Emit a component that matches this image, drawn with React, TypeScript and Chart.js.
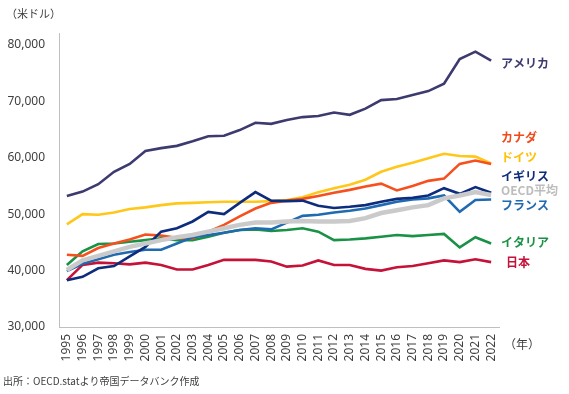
import { useEffect, useRef } from 'react';
import { Chart, registerables } from 'chart.js';
Chart.register(...registerables);

const years = ['1995','1996','1997','1998','1999','2000','2001','2002','2003','2004','2005','2006','2007','2008','2009','2010','2011','2012','2013','2014','2015','2016','2017','2018','2019','2020','2021','2022'];
const yTicks = [30000, 40000, 50000, 60000, 70000, 80000];

const usa = [53200, 54000, 55300, 57500, 58900, 61200, 61700, 62100, 62900, 63800, 63900, 64900, 66200, 66000, 66700, 67200, 67400, 68000, 67600, 68700, 70200, 70400, 71100, 71800, 73100, 77500, 78800, 77200];
const canada = [42800, 42600, 44000, 44800, 45500, 46400, 46200, 45800, 45700, 46900, 48100, 49600, 51000, 52000, 52400, 52700, 53200, 53800, 54300, 54900, 55400, 54200, 55000, 55900, 56300, 58900, 59500, 58900];
const germany = [48200, 50000, 49900, 50300, 50900, 51200, 51600, 51900, 52000, 52100, 52200, 52200, 52200, 52300, 52500, 53000, 53900, 54600, 55200, 56100, 57500, 58400, 59100, 59900, 60700, 60300, 60200, 59000];
const uk = [38300, 38900, 40400, 40800, 42500, 44200, 46900, 47500, 48700, 50400, 50000, 52000, 53900, 52400, 52300, 52400, 51500, 51100, 51300, 51600, 52200, 52700, 52900, 53300, 54600, 53600, 54800, 53800];
const oecd = [40100, 41800, 42600, 43400, 44200, 44800, 45400, 45900, 46300, 46900, 47500, 48100, 48500, 48500, 48700, 48800, 48700, 48700, 48800, 49300, 50200, 50700, 51200, 51600, 52800, 53300, 53900, 53400];
const france = [39900, 41200, 42000, 42800, 43300, 43700, 43700, 44800, 45900, 46300, 46700, 47200, 47500, 47300, 48500, 49700, 49900, 50300, 50600, 51000, 51600, 52200, 52600, 52800, 53300, 50400, 52500, 52600];
const italy = [41000, 43400, 44700, 44800, 45100, 45400, 45700, 45400, 45400, 46000, 46700, 47200, 47300, 47000, 47200, 47500, 46900, 45400, 45500, 45700, 46000, 46300, 46100, 46300, 46500, 44100, 45900, 44800];
const japan = [38300, 41000, 41400, 41300, 41100, 41400, 41000, 40200, 40200, 41000, 41900, 41900, 41900, 41600, 40700, 40900, 41800, 41000, 41000, 40300, 40000, 40600, 40800, 41300, 41800, 41500, 42000, 41500];

const seriesNames = ['アメリカ', 'カナダ', 'ドイツ', 'イギリス', 'OECD平均', 'フランス', 'イタリア', '日本'];
const seriesColors = ['#3C3A6E', '#F5501E', '#FFC719', '#0D2C7C', '#CACACA', '#1F6AB0', '#1A9246', '#C41239'];
const labelColors = ['#3C3A6E', '#F04A1C', '#FFC000', '#0D2C7C', '#BDBDBD', '#1F6AB0', '#1A9246', '#C41239'];
const labelY = [63, 137, 157, 176, 190, 205, 242, 262];

const unitTitle = '（米ドル）';
const xUnit = '（年）';
const sourceText = '出所：OECD.statより帝国データバンク作成';

const JP = '"Noto Sans CJK JP", "Noto Sans", sans-serif';
const NUM = '"Noto Sans", "Noto Sans CJK JP", sans-serif';

export default function App() {
  const ref = useRef<HTMLCanvasElement>(null);
  useEffect(() => {
    const all = [usa, canada, germany, uk, oecd, france, italy, japan];
    const drawOrder = [4, 3, 0, 5, 1, 2, 6, 7];
    const textPlugin = {
      id: 'texts',
      afterDraw(chart: any) {
        const ctx = chart.ctx;
        ctx.save();
        ctx.textBaseline = 'middle';
        ctx.textAlign = 'left';
        seriesNames.forEach((n, i) => {
          ctx.fillStyle = labelColors[i];
          ctx.font = 'bold 12px ' + JP;
          ctx.fillText(n, i === 7 ? 506 : 501, labelY[i]);
        });
        ctx.fillStyle = '#404040';
        ctx.font = '11px ' + JP;
        ctx.fillText(unitTitle, 6, 14);
        ctx.font = '12px ' + JP;
        ctx.fillText(xUnit, 504, 344);
        ctx.font = '10px ' + JP;
        ctx.fillText(sourceText, 3, 381);
        ctx.restore();
      },
    };
    const chart = new Chart(ref.current!, {
      type: 'line',
      data: {
        labels: years,
        datasets: drawOrder.map((i) => ({
          label: seriesNames[i],
          data: all[i],
          borderColor: seriesColors[i],
          backgroundColor: seriesColors[i],
          borderWidth: i === 4 ? 4.5 : 2.6,
          pointRadius: 0,
          tension: 0,
          fill: false,
        })),
      },
      options: {
        animation: false,
        responsive: false,
        layout: { padding: { top: 33, right: 70, left: 0, bottom: 0 } },
        plugins: { legend: { display: false }, tooltip: { enabled: false } },
        scales: {
          x: {
            offset: true,
            grid: { display: false, drawTicks: false },
            border: { display: true, color: '#BFBFBF', width: 1 },
            ticks: {
              autoSkip: false,
              minRotation: 90,
              maxRotation: 90,
              padding: 7,
              color: '#404040',
              font: { size: 12, family: NUM },
            },
            afterFit: (s: any) => { s.height = 67; },
          },
          y: {
            min: 30000,
            max: 82100,
            grid: { display: false, drawTicks: false },
            border: { display: true, color: '#BFBFBF', width: 1 },
            ticks: {
              autoSkip: false,
              padding: 14,
              color: '#404040',
              font: { size: 12, family: NUM },
              callback: (v: any) => Number(v).toLocaleString('en-US'),
            },
            afterBuildTicks: (s: any) => { s.ticks = yTicks.map((v) => ({ value: v })); },
            afterFit: (s: any) => { s.width = 59; },
          },
        },
      },
      plugins: [textPlugin],
    });
    return () => chart.destroy();
  }, []);
  return (
    <div style={{ position: 'fixed', left: 0, top: 0, width: 569, height: 394, background: '#fff' }}>
      <canvas ref={ref} width={569} height={394} style={{ width: 569, height: 394 }} />
    </div>
  );
}
